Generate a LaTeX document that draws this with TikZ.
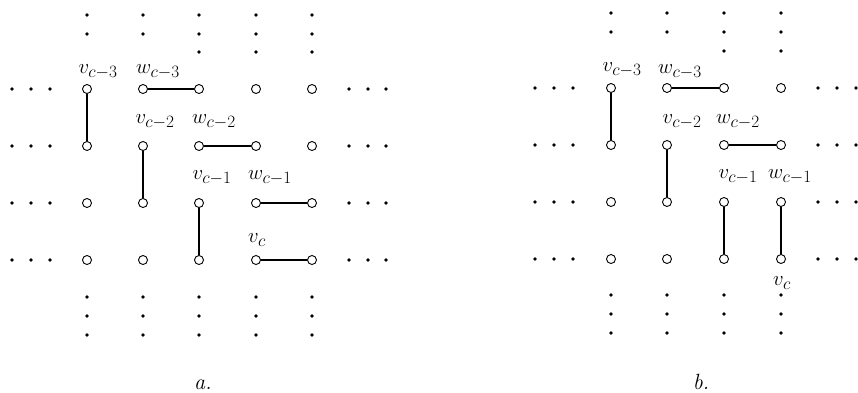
\documentclass[tikz,border=0pt]{standalone}
\usetikzlibrary{positioning}
\DeclareMathSizes{22}{22}{17}{13}
\begin{document}
\begin{tikzpicture}[x=1pt,y=-1pt,
  every node/.style={font=\fontsize{22}{26}\selectfont},
  site/.style={circle,draw,inner sep=0pt,minimum size=9pt,line width=0.9pt},
  pt/.style={circle,fill,inner sep=0pt,minimum size=3.6pt},
  bond/.style={line width=1.1pt},
  lab/.style={inner sep=0pt},
  panelcap/.style={inner sep=0pt,anchor=base,font=\fontsize{22}{26}\selectfont\itshape}
]
\useasboundingbox (0,0) rectangle (858,392);
% panel a: lattice sites
\foreach \c [count=\i] in {87,143,199,256,312}
  \foreach \r [count=\j] in {89,146,203,260}
    \node[site] (a\i\j) at (\c,\r) {};
% panel b: lattice sites
\foreach \c [count=\i] in {611,667,724,781}
  \foreach \r [count=\j] in {88,145,202,259}
    \node[site] (b\i\j) at (\c,\r) {};
% dots at the ends of the rows
\foreach \r [count=\j] in {89,146,203,260} {
  \foreach \x [count=\k] in {12,31,50} \node[pt] (al\j\k) at (\x,\r) {};
  \foreach \x [count=\k] in {349,368,386} \node[pt] (ar\j\k) at (\x,\r) {};
  \foreach \x [count=\k] in {535,554,573} \node[pt] (bl\j\k) at (\x,\r-1) {};
  \foreach \x [count=\k] in {818,837,856} \node[pt] (br\j\k) at (\x,\r-1) {};
}
% dots at the ends of the columns
\foreach \c [count=\i] in {87,143,199,256,312} {
  \foreach \y [count=\k] in {297,316,335} \node[pt] (ab\i\k) at (\c,\y) {};
  \foreach \y [count=\k] in {15,34} \node[pt] (at\i\k) at (\c,\y) {};
}
\foreach \c [count=\i from 3] in {199,256,312} \node[pt] (at\i3) at (\c,52) {};
\foreach \c [count=\i] in {611,667,724,781} {
  \foreach \y [count=\k] in {295,314,333} \node[pt] (bb\i\k) at (\c,\y) {};
  \foreach \y [count=\k] in {13,32} \node[pt] (bt\i\k) at (\c,\y) {};
}
\foreach \c [count=\i from 3] in {724,781} \node[pt] (bt\i3) at (\c,51) {};
% bonds, panel a
\draw[bond] (a11) -- (a12);
\draw[bond] (a21) -- (a31);
\draw[bond] (a22) -- (a23);
\draw[bond] (a32) -- (a42);
\draw[bond] (a33) -- (a34);
\draw[bond] (a43) -- (a53);
\draw[bond] (a44) -- (a54);
% bonds, panel b
\draw[bond] (b11) -- (b12);
\draw[bond] (b21) -- (b31);
\draw[bond] (b22) -- (b23);
\draw[bond] (b32) -- (b42);
\draw[bond] (b33) -- (b34);
\draw[bond] (b43) -- (b44);
% labels, panel a
\node[lab] (av3) at (98,72) {$v_{c-3}$};
\node[lab] (aw3) at (158,72) {$w_{c-3}$};
\node[lab] (av2) at (155,122) {$v_{c-2}$};
\node[lab] (aw2) at (214,122) {$w_{c-2}$};
\node[lab] (av1) at (212,178) {$v_{c-1}$};
\node[lab] (aw1) at (270,178) {$w_{c-1}$};
\node[lab] (av0) at (257,240) {$v_{c}$};
% labels, panel b
\node[lab] (bv3) at (622,70) {$v_{c-3}$};
\node[lab] (bw3) at (680,72) {$w_{c-3}$};
\node[lab] (bv2) at (682,122) {$v_{c-2}$};
\node[lab] (bw2) at (738,122) {$w_{c-2}$};
\node[lab] (bv1) at (738,177) {$v_{c-1}$};
\node[lab] (bw1) at (790,177) {$w_{c-1}$};
\node[lab] (bv0) at (782,283) {$v_{c}$};
% captions
\node[panelcap] (capa) at (203,389) {a.};
\node[panelcap] (capb) at (701,389) {b.};
\end{tikzpicture}
\end{document}
